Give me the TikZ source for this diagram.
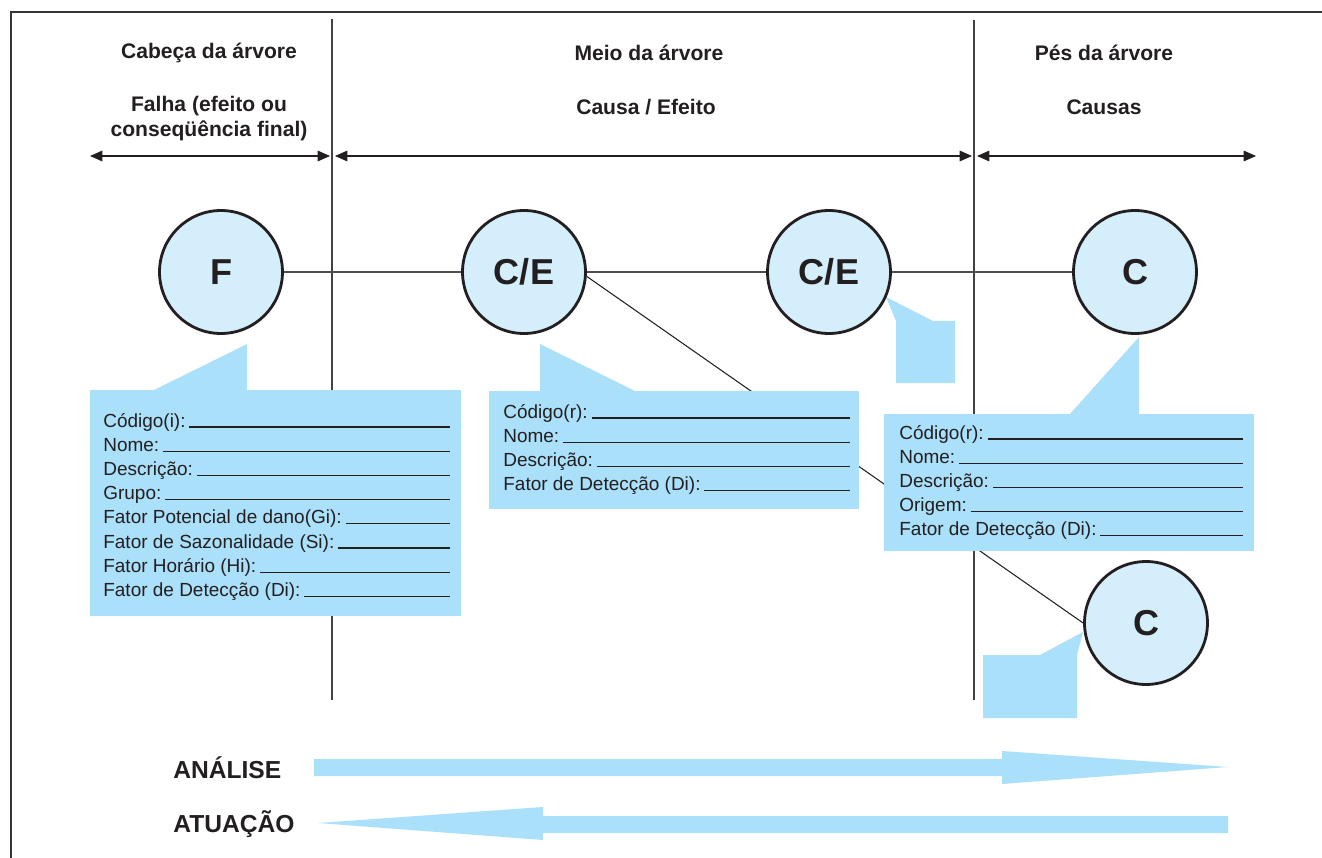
\documentclass[tikz,border=0pt]{standalone}
\usepackage{fontspec}
\setmainfont{Liberation Sans}
\usetikzlibrary{arrows.meta,calc}
\definecolor{azulcaixa}{HTML}{ABE0FA}
\definecolor{azulcirc}{HTML}{D4EFFB}
\definecolor{tinta}{HTML}{231F20}
\definecolor{cinza}{HTML}{4D4D4D}
\pgfdeclarelayer{fundo}
\pgfdeclarelayer{caixas}
\pgfsetlayers{fundo,caixas,main}
\tikzstyle{noh} = [circle, draw=tinta, line width=1.6pt, fill=azulcirc, minimum size=2.46cm, inner sep=0pt, text=tinta, font=\fontsize{20.5}{24}\selectfont\bfseries]
\tikzstyle{titulo} = [align=center, text=tinta, font=\fontsize{12}{14.2}\selectfont\bfseries]
\tikzstyle{rotulo} = [anchor=west, inner sep=0pt, text=tinta, font=\fontsize{14}{16}\selectfont\bfseries]
\tikzstyle{campo} = [anchor=base west, inner sep=0pt, text=tinta, font=\fontsize{10.8}{12}\selectfont]
\tikzstyle{traco} = [line width=0.6pt, draw=tinta]
\tikzstyle{eixo} = [line width=0.85pt, draw=cinza]
\tikzstyle{divisor} = [line width=0.8pt, draw=tinta!85]
\tikzstyle{seta} = [line width=0.6pt, draw=tinta, {Triangle[length=7pt,width=6pt]}-{Triangle[length=7pt,width=6pt]}]
\tikzstyle{caixa} = [fill=azulcaixa]

\begin{document}
\begin{tikzpicture}[x=0.02cm, y=-0.02cm]
		\useasboundingbox (0,0) rectangle (1322,858);
		\draw[line width=1.7pt, draw=tinta!90] (1322,12) -- (11,12) -- (11,858);

		\node[titulo](h_1) at (209,53) {Cabeça da árvore};
		\node[titulo](h_2) at (209,118.5) {Falha (efeito ou\\conseqüência final)};
		\node[titulo](h_3) at (649,53) {Meio da árvore};
		\node[titulo](h_4) at (646,107) {Causa / Efeito};
		\node[titulo](h_5) at (1104,53) {Pés da árvore};
		\node[titulo](h_6) at (1104,107) {Causas};

		\coordinate (d_1) at (332,19);
		\coordinate (d_2) at (332,700);
		\coordinate (d_3) at (974,20);
		\coordinate (d_4) at (974,700);
		\coordinate (a_1) at (90,156);
		\coordinate (a_2) at (330,156);
		\coordinate (a_3) at (335,156);
		\coordinate (a_4) at (972,156);
		\coordinate (a_5) at (977,156);
		\coordinate (a_6) at (1256,156);
		\draw[seta] (a_1) -- (a_2);
		\draw[seta] (a_3) -- (a_4);
		\draw[seta] (a_5) -- (a_6);

		\node[noh](f) at (221,272) {F};
		\node[noh](ce_1) at (524,272) {C/E};
		\node[noh](ce_2) at (829,272) {C/E};
		\node[noh](c_1) at (1135,272) {C};
		\node[noh](c_2) at (1146,623) {C};

		\begin{pgfonlayer}{fundo}
		\draw[divisor] (d_1) -- (d_2);
		\draw[divisor] (d_3) -- (d_4);
		\draw[eixo] (f) -- (ce_1) -- (ce_2) -- (c_1);
		\draw[traco] (ce_1.-4) -- (c_2.west);
		\end{pgfonlayer}

		\begin{pgfonlayer}{caixas}
		\fill[caixa] (90,390) rectangle (461,616);
		\fill[caixa] (152,391) -- (247,344) -- (247,391) -- cycle;
		\fill[caixa] (489,391) rectangle (859,509);
		\fill[caixa] (540,392) -- (540,344) -- (637,392) -- cycle;
		\fill[caixa] (884,414) rectangle (1254,551);
		\fill[caixa] (1069,415) -- (1139,337) -- (1139,415) -- cycle;
		\fill[caixa] (896,383) -- (896,321) -- (886,297) -- (933,321) -- (955,321) -- (955,383) -- cycle;
		\fill[caixa] (983,718) -- (983,655) -- (1040,655) -- (1083,632) -- (1077,655) -- (1077,718) -- cycle;
		\fill[caixa] (314,759) -- (1002,759) -- (1002,751) -- (1228,767) -- (1002,784) -- (1002,776) -- (314,776) -- cycle;
		\fill[caixa] (1228,816) -- (543,816) -- (543,807) -- (318,823) -- (543,840) -- (543,833) -- (1228,833) -- cycle;
		\end{pgfonlayer}

		\coordinate (fim_1) at (450,0);
		\coordinate (fim_2) at (850,0);
		\coordinate (fim_3) at (1243,0);
		\foreach \txt [count=\i] in {Código(i):, Nome:, Descrição:, Grupo:, Fator Potencial de dano(Gi):, Fator de Sazonalidade (Si):, Fator Horário (Hi):, Fator de Detecção (Di):} {
			\node[campo](cx1_\i) at (103,{427+24.2*(\i-1)}) {\txt};
			\draw[traco] ([xshift=2pt]cx1_\i.base east) -- (cx1_\i.base east -| fim_1);
		}
		\foreach \txt [count=\i] in {Código(r):, Nome:, Descrição:, Fator de Detecção (Di):} {
			\node[campo](cx2_\i) at (503,{418+24.2*(\i-1)}) {\txt};
			\draw[traco] ([xshift=2pt]cx2_\i.base east) -- (cx2_\i.base east -| fim_2);
		}
		\foreach \txt [count=\i] in {Código(r):, Nome:, Descrição:, Origem:, Fator de Detecção (Di):} {
			\node[campo](cx3_\i) at (899,{439+24.2*(\i-1)}) {\txt};
			\draw[traco] ([xshift=2pt]cx3_\i.base east) -- (cx3_\i.base east -| fim_3);
		}

		\node[rotulo](analise) at (173,768) {ANÁLISE};
		\node[rotulo](atuacao) at (173,824) {ATUAÇÃO};
\end{tikzpicture}
\end{document}
